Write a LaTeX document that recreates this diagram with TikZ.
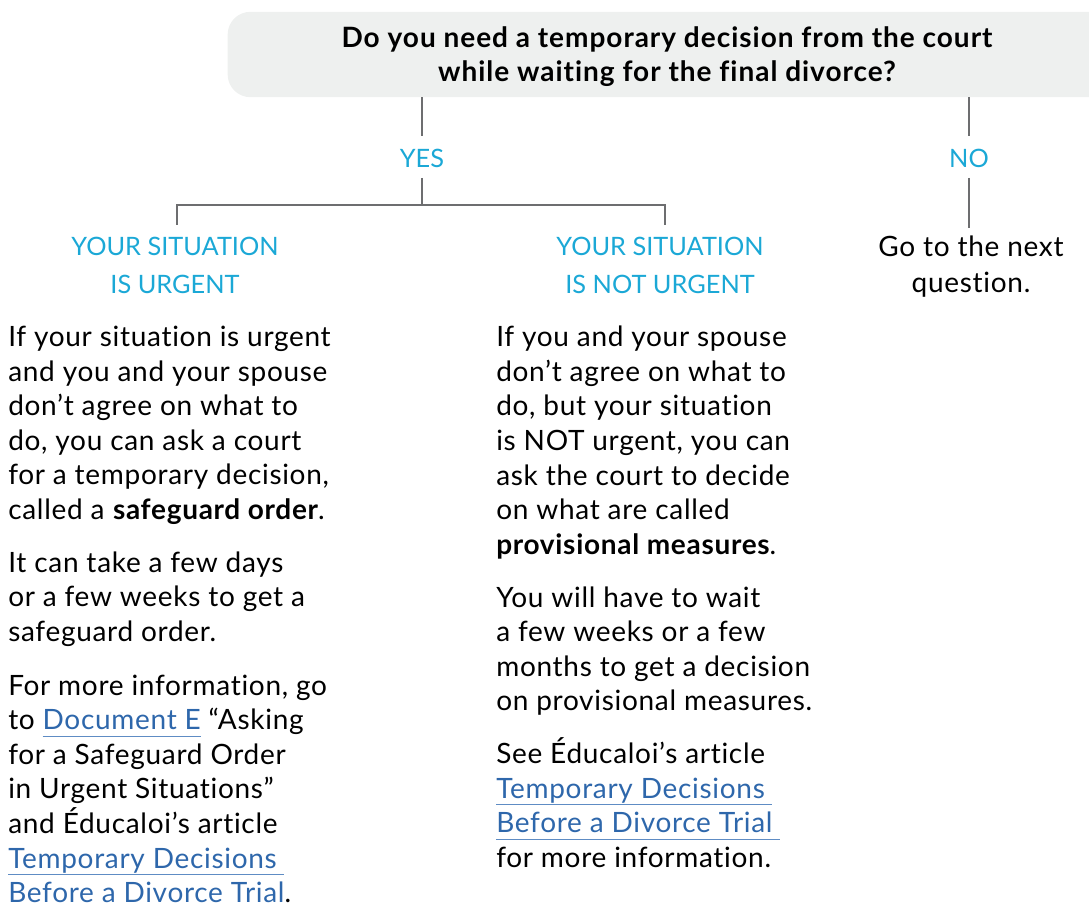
\documentclass[tikz,border=0pt]{standalone}
\usepackage{fontspec}
\setmainfont{Lato}[Ligatures=NoCommon]
\definecolor{boxgray}{HTML}{EEF0EF}
\definecolor{linegray}{HTML}{6D6E70}
\definecolor{cyanlab}{HTML}{1BA8D6}
\definecolor{linkblue}{HTML}{2E67AB}
\definecolor{linkline}{HTML}{5E8CC4}
\newcommand{\lnk}[1]{\setbox0\hbox{#1}\rlap{\color{linkline}\rule[-5.2pt]{\wd0}{0.9pt}}{\color{linkblue}\box0}}
\newcommand{\bodyfont}{\fontsize{21}{25.9}\selectfont\addfontfeatures{LetterSpace=2.5}}
\begin{document}
\begin{tikzpicture}[x=0.75pt,y=-0.75pt,
  conn/.style={draw=linegray,line width=1.4pt},
  qbox/.style={fill=boxgray,rounded corners=17pt,minimum width=662pt,minimum height=64pt,inner sep=0pt,
    align=center,font=\fontsize{21}{25.5}\selectfont\bfseries\addfontfeatures{LetterSpace=3.5}},
  lab/.style={text=cyanlab,align=center,inner sep=0pt,font=\fontsize{19}{28.5}\selectfont},
  body/.style={align=left,inner sep=0pt,anchor=north west,font=\bodyfont}]
\clip (0,0) rectangle (1089,905);
\useasboundingbox (0,0) rectangle (1089,905);
\node[qbox] (q) at (669,54.5) {};
\node[align=center,inner sep=0pt,font=\fontsize{21}{25.5}\selectfont\bfseries\addfontfeatures{LetterSpace=3.5}] (qt) at (667,57) {Do you need a temporary decision from the court\\while waiting for the final divorce?};
\node[lab] (yes) at (422,158) {YES};
\node[lab] (no) at (969,158) {NO};
\node[lab] (urg) at (175,265) {YOUR SITUATION\\IS URGENT};
\node[lab] (nurg) at (660,265) {YOUR SITUATION\\IS NOT URGENT};
\node[align=center,inner sep=0pt,font=\fontsize{21}{27}\selectfont\addfontfeatures{LetterSpace=2.5}] (next) at (971,267) {Go to the next\\question.};
\coordinate (bar) at (422,205);
\coordinate (lt) at (177,225);
\coordinate (rt) at (665,225);
\draw[conn] (yes |- q.south) -- (422,136);
\draw[conn] (422,178) -- (bar);
\draw[conn] (lt) -- (lt |- bar) -- (rt |- bar) -- (rt);
\draw[conn] (no |- q.south) -- (969,136);
\draw[conn] (969,178) -- (969,228);
\node[body] (b1) at (8,326) {If your situation is urgent\\and you and your spouse\\don’t agree on what to\\do, you can ask a court\\for a temporary decision,\\called a \textbf{safeguard order}.\\[13.9pt]
It can take a few days\\or a few weeks to get a\\safeguard order.\\[14.5pt]
For more information, go\\to \lnk{Document E} “Asking\\for a Safeguard Order\\in Urgent Situations”\\and Éducaloi’s article\\\lnk{Temporary Decisions\hspace{0.25em}}\\\lnk{Before a Divorce Trial}.};
\node[body] (b2) at (496,326) {If you and your spouse\\don’t agree on what to\\do, but your situation\\is NOT urgent, you can\\ask the court to decide\\on what are called\\\textbf{provisional measures}.\\[13.9pt]
You will have to wait\\a few weeks or a few\\months to get a decision\\on provisional measures.\\[13.9pt]
See Éducaloi’s article\\\lnk{Temporary Decisions\hspace{0.25em}}\\\lnk{Before a Divorce Trial\hspace{0.25em}}\\for more information.};
\end{tikzpicture}
\end{document}
